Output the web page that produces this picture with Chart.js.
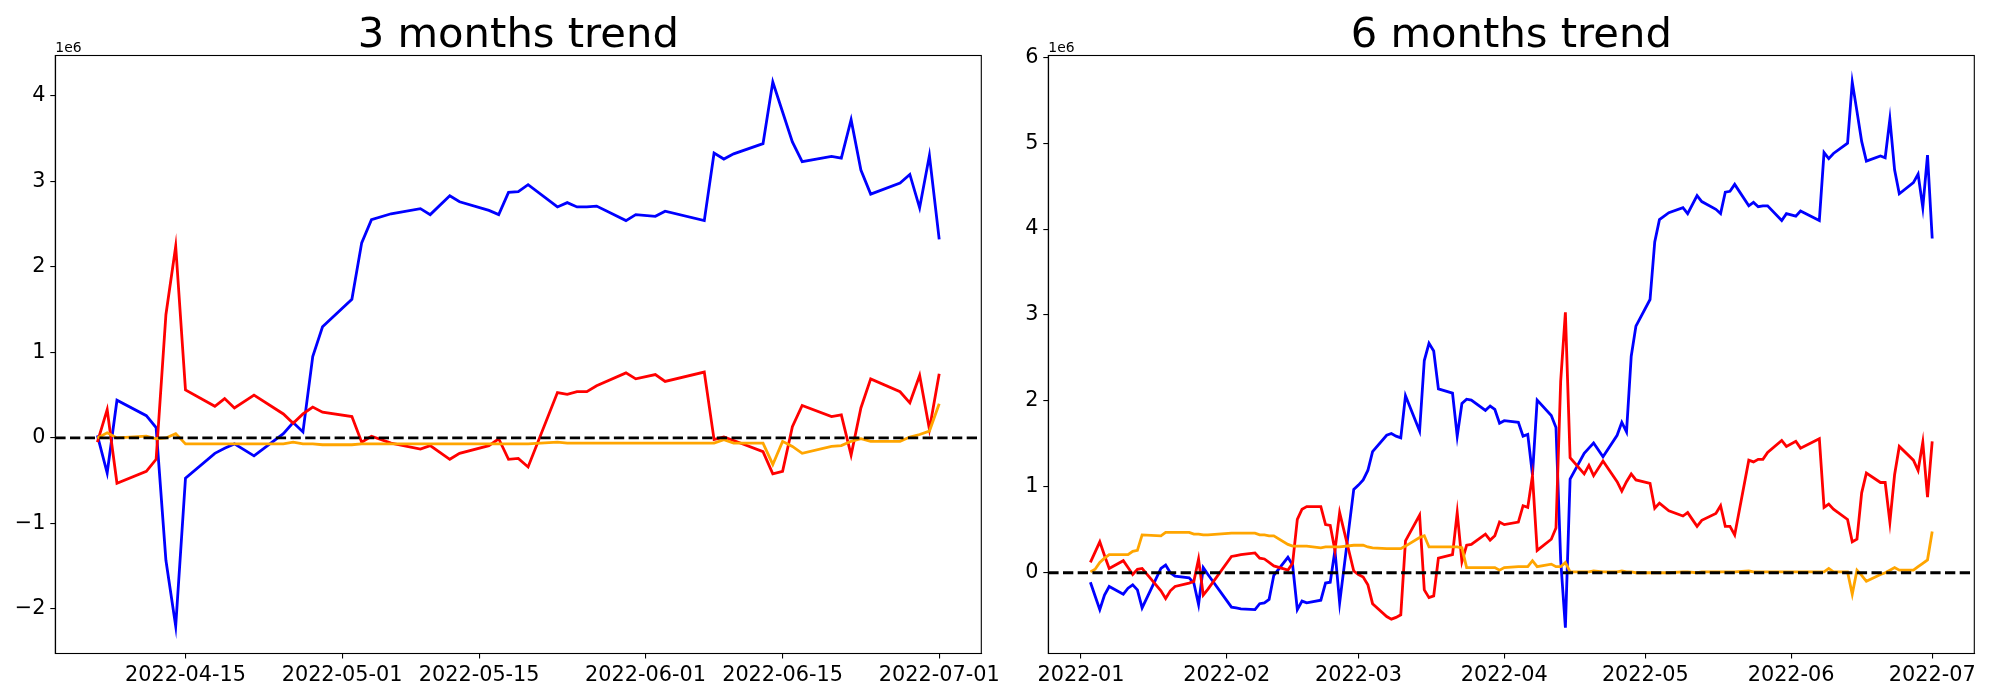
<!DOCTYPE html>
<html>
<head>
<meta charset="utf-8">
<script src="https://cdn.jsdelivr.net/npm/chart.js@4.4.1/dist/chart.umd.min.js"></script>
<style>
  html, body { margin: 0; padding: 0; background: #fff; }
  #wrap { position: relative; width: 2000px; height: 700px; }
  canvas { position: absolute; top: 0; }
  #left-chart { left: 0; }
  #right-chart { left: 1000px; }
</style>
</head>
<body>
<div id="wrap">
  <canvas id="left-chart" width="1000" height="700"></canvas>
  <canvas id="right-chart" width="1000" height="700"></canvas>
</div>
<script>
const FONT = '"DejaVu Sans"';
const LINE_WIDTH = 2.8;

// 3 months (values in 1e6)
const dates3 = [
  '2022-04-06', '2022-04-07', '2022-04-08', '2022-04-11', '2022-04-12', '2022-04-13', '2022-04-14', '2022-04-15',
  '2022-04-18', '2022-04-19', '2022-04-20', '2022-04-22', '2022-04-25', '2022-04-26', '2022-04-27', '2022-04-28',
  '2022-04-29', '2022-05-02', '2022-05-03', '2022-05-04', '2022-05-06', '2022-05-09', '2022-05-10', '2022-05-12',
  '2022-05-13', '2022-05-16', '2022-05-17', '2022-05-18', '2022-05-19', '2022-05-20', '2022-05-23', '2022-05-24',
  '2022-05-25', '2022-05-26', '2022-05-27', '2022-05-30', '2022-05-31', '2022-06-02', '2022-06-03', '2022-06-07',
  '2022-06-08', '2022-06-09', '2022-06-10', '2022-06-13', '2022-06-14', '2022-06-15', '2022-06-16', '2022-06-17',
  '2022-06-20', '2022-06-21', '2022-06-22', '2022-06-23', '2022-06-24', '2022-06-27', '2022-06-28', '2022-06-29',
  '2022-06-30', '2022-07-01'
];
const blue3 = [
  0.03, -0.41, 0.44, 0.26, 0.12, -1.43, -2.20, -0.47,
  -0.18, -0.12, -0.07, -0.21, 0.05, 0.18, 0.07, 0.95,
  1.30, 1.62, 2.28, 2.55, 2.62, 2.68, 2.61, 2.83,
  2.76, 2.66, 2.61, 2.87, 2.88, 2.96, 2.70, 2.75,
  2.70, 2.70, 2.71, 2.54, 2.61, 2.59, 2.65, 2.54,
  3.33, 3.26, 3.32, 3.44, 4.16, 3.81, 3.46, 3.23,
  3.29, 3.27, 3.72, 3.13, 2.85, 2.98, 3.08, 2.69,
  3.30, 2.32
];
const red3 = [
  -0.05, 0.33, -0.53, -0.39, -0.25, 1.44, 2.24, 0.56,
  0.37, 0.46, 0.35, 0.50, 0.28, 0.17, 0.28, 0.36,
  0.30, 0.25, -0.05, 0.02, -0.06, -0.13, -0.09, -0.25,
  -0.18, -0.09, -0.01, -0.25, -0.24, -0.34, 0.53, 0.51,
  0.54, 0.54, 0.61, 0.76, 0.69, 0.74, 0.66, 0.77,
  -0.02, 0.01, -0.03, -0.16, -0.42, -0.39, 0.13, 0.38,
  0.25, 0.27, -0.20, 0.35, 0.69, 0.54, 0.41, 0.73,
  0.10, 0.75
];
const orange3 = [
  0.00, 0.06, 0.00, 0.02, -0.01, 0.00, 0.05, -0.07,
  -0.07, -0.07, -0.07, -0.07, -0.07, -0.05, -0.07, -0.07,
  -0.08, -0.08, -0.07, -0.07, -0.07, -0.07, -0.07, -0.07,
  -0.07, -0.07, -0.07, -0.07, -0.07, -0.07, -0.05, -0.06,
  -0.06, -0.06, -0.06, -0.06, -0.06, -0.06, -0.06, -0.06,
  -0.06, -0.02, -0.06, -0.06, -0.31, -0.04, -0.10, -0.18,
  -0.10, -0.09, -0.04, -0.01, -0.04, -0.04, 0.01, 0.04,
  0.08, 0.40
];

// 6 months (values in 1e6)
const dates6 = [
  '2022-01-03', '2022-01-04', '2022-01-05', '2022-01-06', '2022-01-07', '2022-01-10', '2022-01-11', '2022-01-12',
  '2022-01-13', '2022-01-14', '2022-01-18', '2022-01-19', '2022-01-20', '2022-01-21', '2022-01-24', '2022-01-25',
  '2022-01-26', '2022-01-27', '2022-01-28', '2022-02-02', '2022-02-03', '2022-02-04', '2022-02-07', '2022-02-08',
  '2022-02-09', '2022-02-10', '2022-02-11', '2022-02-14', '2022-02-15', '2022-02-16', '2022-02-17', '2022-02-18',
  '2022-02-21', '2022-02-22', '2022-02-23', '2022-02-24', '2022-02-25', '2022-02-28', '2022-03-01', '2022-03-02',
  '2022-03-03', '2022-03-04', '2022-03-07', '2022-03-08', '2022-03-09', '2022-03-10', '2022-03-11', '2022-03-14',
  '2022-03-15', '2022-03-16', '2022-03-17', '2022-03-18', '2022-03-21', '2022-03-22', '2022-03-23', '2022-03-24',
  '2022-03-25', '2022-03-28', '2022-03-29', '2022-03-30', '2022-03-31', '2022-04-01', '2022-04-04', '2022-04-05',
  '2022-04-06', '2022-04-07', '2022-04-08', '2022-04-11', '2022-04-12', '2022-04-13', '2022-04-14', '2022-04-15',
  '2022-04-18', '2022-04-19', '2022-04-20', '2022-04-22', '2022-04-25', '2022-04-26', '2022-04-27', '2022-04-28',
  '2022-04-29', '2022-05-02', '2022-05-03', '2022-05-04', '2022-05-06', '2022-05-09', '2022-05-10', '2022-05-12',
  '2022-05-13', '2022-05-16', '2022-05-17', '2022-05-18', '2022-05-19', '2022-05-20', '2022-05-23', '2022-05-24',
  '2022-05-25', '2022-05-26', '2022-05-27', '2022-05-30', '2022-05-31', '2022-06-02', '2022-06-03', '2022-06-07',
  '2022-06-08', '2022-06-09', '2022-06-10', '2022-06-13', '2022-06-14', '2022-06-15', '2022-06-16', '2022-06-17',
  '2022-06-20', '2022-06-21', '2022-06-22', '2022-06-23', '2022-06-24', '2022-06-27', '2022-06-28', '2022-06-29',
  '2022-06-30', '2022-07-01'
];
const blue6 = [
  -0.11, -0.27, -0.43, -0.26, -0.16, -0.25, -0.18, -0.14,
  -0.20, -0.41, 0.05, 0.09, 0.00, -0.04, -0.06, -0.12,
  -0.37, 0.06, -0.02, -0.40, -0.41, -0.42, -0.43, -0.36,
  -0.35, -0.31, -0.03, 0.18, 0.09, -0.43, -0.33, -0.35,
  -0.32, -0.12, -0.11, 0.26, -0.35, 0.97, 1.02, 1.08,
  1.19, 1.41, 1.60, 1.62, 1.59, 1.57, 2.06, 1.65,
  2.47, 2.67, 2.58, 2.14, 2.09, 1.59, 1.97, 2.02,
  2.01, 1.89, 1.94, 1.90, 1.74, 1.77, 1.75, 1.59,
  1.61, 1.14, 2.01, 1.83, 1.69, 0.15, -0.64, 1.09,
  1.39, 1.45, 1.51, 1.35, 1.60, 1.75, 1.64, 2.52,
  2.87, 3.18, 3.85, 4.11, 4.19, 4.25, 4.18, 4.39,
  4.32, 4.23, 4.18, 4.43, 4.44, 4.52, 4.27, 4.31,
  4.26, 4.27, 4.27, 4.10, 4.18, 4.15, 4.21, 4.10,
  4.89, 4.82, 4.88, 5.00, 5.71, 5.37, 5.02, 4.79,
  4.85, 4.83, 5.28, 4.69, 4.41, 4.54, 4.64, 4.25,
  4.86, 3.89
];
const red6 = [
  0.12, 0.24, 0.36, 0.20, 0.05, 0.14, 0.06, -0.02,
  0.04, 0.05, -0.21, -0.30, -0.21, -0.16, -0.12, -0.10,
  0.16, -0.26, -0.19, 0.19, 0.20, 0.21, 0.23, 0.17,
  0.16, 0.12, 0.08, 0.03, 0.11, 0.62, 0.74, 0.77,
  0.77, 0.56, 0.55, 0.26, 0.70, 0.02, -0.02, -0.05,
  -0.14, -0.36, -0.51, -0.54, -0.52, -0.49, 0.37, 0.67,
  -0.20, -0.29, -0.27, 0.17, 0.21, 0.70, 0.13, 0.32,
  0.33, 0.45, 0.38, 0.43, 0.59, 0.56, 0.59, 0.78,
  0.76, 1.13, 0.26, 0.39, 0.52, 2.23, 3.03, 1.34,
  1.15, 1.25, 1.13, 1.30, 1.06, 0.95, 1.06, 1.15,
  1.08, 1.04, 0.75, 0.81, 0.72, 0.66, 0.70, 0.54,
  0.61, 0.69, 0.78, 0.54, 0.54, 0.44, 1.31, 1.29,
  1.32, 1.32, 1.40, 1.54, 1.47, 1.53, 1.45, 1.56,
  0.76, 0.80, 0.74, 0.62, 0.36, 0.39, 0.93, 1.16,
  1.05, 1.05, 0.59, 1.14, 1.47, 1.31, 1.19, 1.52,
  0.88, 1.53
];
const orange6 = [
  0.01, 0.04, 0.12, 0.17, 0.21, 0.21, 0.21, 0.25,
  0.26, 0.44, 0.43, 0.47, 0.47, 0.47, 0.47, 0.45,
  0.45, 0.44, 0.44, 0.46, 0.46, 0.46, 0.46, 0.44,
  0.44, 0.43, 0.43, 0.33, 0.31, 0.31, 0.31, 0.31,
  0.29, 0.30, 0.30, 0.30, 0.30, 0.32, 0.32, 0.32,
  0.30, 0.29, 0.28, 0.28, 0.28, 0.28, 0.31, 0.41,
  0.43, 0.30, 0.30, 0.30, 0.30, 0.30, 0.29, 0.06,
  0.06, 0.06, 0.06, 0.06, 0.03, 0.06, 0.07, 0.07,
  0.07, 0.14, 0.07, 0.10, 0.07, 0.07, 0.12, 0.01,
  0.01, 0.01, 0.02, 0.01, 0.01, 0.02, 0.01, 0.01,
  0.00, 0.00, 0.00, 0.00, 0.00, 0.01, 0.01, 0.00,
  0.01, 0.01, 0.01, 0.01, 0.01, 0.01, 0.02, 0.01,
  0.01, 0.01, 0.01, 0.01, 0.01, 0.01, 0.01, 0.01,
  0.01, 0.05, 0.01, 0.01, -0.25, 0.03, -0.03, -0.10,
  -0.02, 0.00, 0.03, 0.06, 0.03, 0.03, 0.07, 0.11,
  0.15, 0.48
];

const xTicks3 = ['2022-04-15', '2022-05-01', '2022-05-15', '2022-06-01', '2022-06-15', '2022-07-01'];
const xLabels3 = ['2022-04-15', '2022-05-01', '2022-05-15', '2022-06-01', '2022-06-15', '2022-07-01'];
const xTicks6 = ['2022-01-01', '2022-02-01', '2022-03-01', '2022-04-01', '2022-05-01', '2022-06-01', '2022-07-01'];
const xLabels6 = ['2022-01', '2022-02', '2022-03', '2022-04', '2022-05', '2022-06', '2022-07'];
const yTicks3 = [-2, -1, 0, 1, 2, 3, 4];
const yTicks6 = [0, 1, 2, 3, 4, 5, 6];

function dayNumber(text) {
  const [y, m, d] = text.split('-').map(Number);
  return Date.UTC(y, m - 1, d) / 86400000;
}

function formatTick(value) {
  return value < 0 ? '\u2212' + Math.abs(value) : String(value);
}

const framePlugin = {
  id: 'frame',
  afterDatasetsDraw(chart, args, opts) {
    const { ctx, chartArea: area, scales } = chart;
    const zeroY = scales.y.getPixelForValue(0);

    ctx.save();
    ctx.beginPath();
    ctx.rect(area.left, area.top, area.right - area.left, area.bottom - area.top);
    ctx.clip();
    ctx.setLineDash([10.3, 4.4]);
    ctx.lineWidth = LINE_WIDTH;
    ctx.strokeStyle = '#000';
    ctx.beginPath();
    ctx.moveTo(area.left, zeroY);
    ctx.lineTo(area.right, zeroY);
    ctx.stroke();
    ctx.restore();

    ctx.save();
    ctx.lineWidth = 1.1;
    ctx.strokeStyle = '#000';
    ctx.strokeRect(area.left, area.top, area.right - area.left, area.bottom - area.top);
    ctx.fillStyle = '#000';
    ctx.textBaseline = 'alphabetic';
    ctx.textAlign = 'center';
    ctx.font = '41.7px ' + FONT;
    ctx.fillText(opts.title, (area.left + area.right) / 2, area.top - 8.3);
    ctx.textAlign = 'left';
    ctx.font = '13.9px ' + FONT;
    ctx.fillText('1e6', area.left, area.top - 4);
    ctx.restore();
  }
};

function buildSeries(xs, values, color, order) {
  return {
    data: values.map((v, i) => ({ x: xs[i], y: v })),
    borderColor: color,
    borderWidth: LINE_WIDTH,
    pointRadius: 0,
    fill: false,
    tension: 0,
    order
  };
}

function axisStyle() {
  return {
    grid: { drawOnChartArea: false, drawTicks: true, tickLength: 5, color: '#000', lineWidth: 1.1 },
    border: { display: true, color: '#000', width: 1.1 }
  };
}

function dropPadding(scale) {
  scale.paddingLeft = 0;
  scale.paddingRight = 0;
  scale.paddingTop = 0;
  scale.paddingBottom = 0;
}

function makeChart(id, cfg) {
  const xs = cfg.dates.map(dayNumber);
  const first = xs[0];
  const last = xs[xs.length - 1];
  const margin = (last - first) * 0.05;

  return new Chart(document.getElementById(id), {
    type: 'line',
    data: {
      datasets: [
        buildSeries(xs, cfg.blue, '#0000ff', 3),
        buildSeries(xs, cfg.red, '#ff0000', 2),
        buildSeries(xs, cfg.orange, '#ffa500', 1)
      ]
    },
    options: {
      responsive: false,
      animation: false,
      devicePixelRatio: 1,
      layout: { padding: { top: 55.5, right: cfg.padRight, bottom: 0, left: 0 } },
      plugins: {
        legend: { display: false },
        tooltip: { enabled: false },
        frame: { title: cfg.title }
      },
      scales: {
        x: {
          type: 'linear',
          min: first - margin,
          max: last + margin,
          afterBuildTicks: (scale) => {
            scale.ticks = cfg.xTicks.map((t) => ({ value: dayNumber(t) }));
          },
          afterFit: (scale) => {
            scale.height = 46.5;
            dropPadding(scale);
          },
          ticks: {
            autoSkip: false,
            maxRotation: 0,
            color: '#000',
            padding: 4.9,
            font: { family: 'DejaVu Sans', size: 20.8 },
            callback: (value, index) => cfg.xLabels[index]
          },
          ...axisStyle()
        },
        y: {
          min: cfg.yRange[0],
          max: cfg.yRange[1],
          afterBuildTicks: (scale) => {
            scale.ticks = cfg.yTicks.map((v) => ({ value: v }));
          },
          afterFit: (scale) => {
            scale.width = cfg.yWidth;
            dropPadding(scale);
          },
          ticks: {
            color: '#000',
            padding: 4.9,
            font: { family: 'DejaVu Sans', size: 20.8 },
            callback: (value) => formatTick(value)
          },
          ...axisStyle()
        }
      }
    },
    plugins: [framePlugin]
  });
}

makeChart('left-chart', {
  title: '3 months trend',
  dates: dates3,
  blue: blue3,
  red: red3,
  orange: orange3,
  xTicks: xTicks3,
  xLabels: xLabels3,
  yTicks: yTicks3,
  yRange: [-2.52, 4.47],
  yWidth: 55.3,
  padRight: 18.7
});

makeChart('right-chart', {
  title: '6 months trend',
  dates: dates6,
  blue: blue6,
  red: red6,
  orange: orange6,
  xTicks: xTicks6,
  xLabels: xLabels6,
  yTicks: yTicks6,
  yRange: [-0.94, 6.02],
  yWidth: 48.3,
  padRight: 25.7
});
</script>
</body>
</html>
